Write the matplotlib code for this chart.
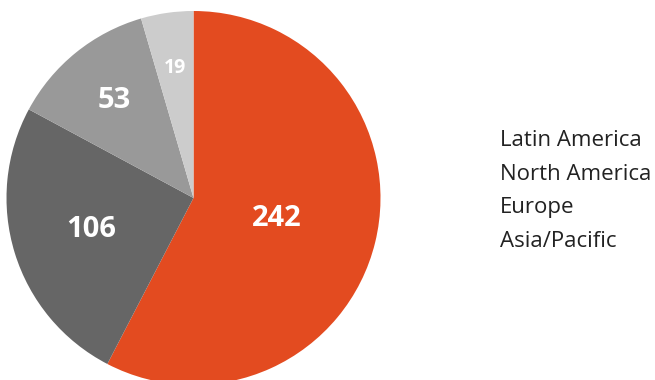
import numpy as np
import matplotlib.pyplot as plt

# Regional counts, drawn clockwise from 12 o'clock
regions = ['Latin America', 'North America', 'Europe', 'Asia/Pacific']
counts = [242, 106, 53, 19]
colors = ['#E34B20', '#666666', '#999999', '#CCCCCC']

# label radius (fraction of pie radius) and font size per wedge
label_r = [0.46, 0.57, 0.67, 0.70]
label_size = [21, 21, 21, 14]

W, H = 655, 380
cx, cy, R = 193.5, 198, 187  # pie centre / radius in pixels

fig = plt.figure(figsize=(W / 100, H / 100), dpi=100)
ax = fig.add_axes([0, 0, 1, 1])

wedges, _ = ax.pie(counts, colors=colors, startangle=90, counterclock=False,
                   radius=1, wedgeprops=dict(linewidth=0))

for w, val, r, fs in zip(wedges, counts, label_r, label_size):
    ang = np.deg2rad((w.theta1 + w.theta2) / 2)
    ax.text(r * np.cos(ang), r * np.sin(ang), str(val), ha='center', va='center',
            color='white', fontsize=fs, fontweight='bold', family='Open Sans')

ax.set_xlim(-cx / R, (W - cx) / R)
ax.set_ylim(-(H - cy) / R, cy / R)
ax.set_aspect('equal')
ax.axis('off')

# text-only legend on the right
leg = ax.legend(wedges, regions, loc='center left',
                bbox_to_anchor=(480 / W, 1 - 191 / H), bbox_transform=fig.transFigure,
                frameon=False, handlelength=0, handletextpad=0, labelspacing=0.58,
                prop={'family': 'Open Sans', 'size': 16})
for h in leg.legend_handles:
    h.set_visible(False)
for t in leg.get_texts():
    t.set_color('#222222')

fig.savefig('out.png', dpi=100)
